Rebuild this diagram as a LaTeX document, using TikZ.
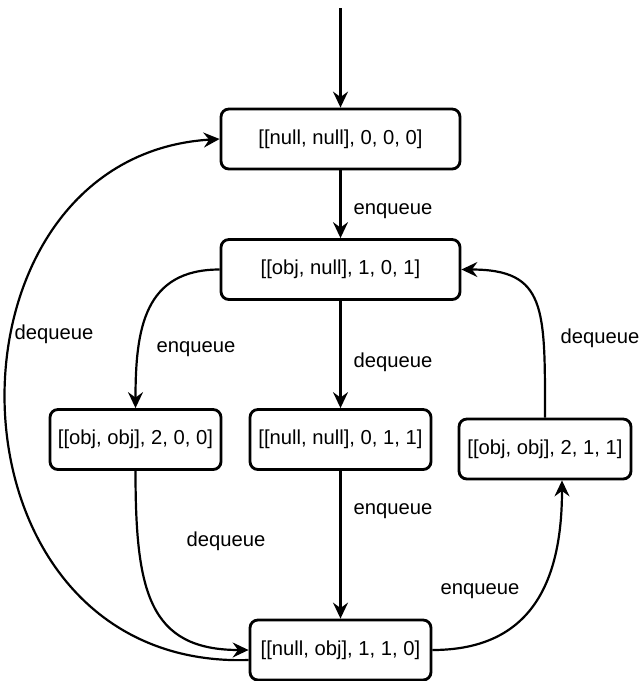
\documentclass[tikz,border=0pt]{standalone}
\usepackage{fontspec}
\setmainfont{Liberation Sans}
\usetikzlibrary{arrows.meta, positioning, calc}
\definecolor{ink}{HTML}{000000}
\definecolor{paper}{HTML}{FFFFFF}

\begin{document}
\begin{tikzpicture}[
  >={Stealth[length=3.2mm, width=3mm, inset=1.1mm]},
  qstate/.style={draw=ink, line width=1.6pt, fill=paper, rounded corners=4.5pt,
    minimum width=#1, minimum height=12mm, inner sep=0pt,
    font=\fontsize{11.5}{13}\selectfont, text=ink, align=center},
  qstate/.default=36.2mm,
  lbl/.style={font=\fontsize{11.5}{13}\selectfont, text=ink, inner sep=1pt},
  arr/.style={->, line width=1.25pt, ink},
]

% Background
\useasboundingbox[fill=paper] (0,0) rectangle (12.82,-13.62);

% =============================================
% States
% =============================================
\coordinate (start) at (6.81,-0.16);

\node[qstate=47.8mm] (n0) at (6.81,-2.78)
  {[[null, null], 0, 0, 0]};

\node[qstate=47.8mm] (n1) at (6.81,-5.39)
  {[[obj, null], 1, 0, 1]};

\node[qstate=34.2mm] (n2) at (2.71,-8.79)
  {[[obj, obj], 2, 0, 0]};

\node[qstate] (n3) at (6.81,-8.79)
  {[[null, null], 0, 1, 1]};

\node[qstate=34.4mm] (n4) at (10.9,-8.98)
  {[[obj, obj], 2, 1, 1]};

\node[qstate] (n5) at (6.81,-13.0)
  {[[null, obj], 1, 1, 0]};

% =============================================
% Straight transitions
% =============================================
\draw[arr] (start) -- (n0);
\draw[arr] (n0) -- (n1);
\draw[arr] (n1) -- (n3);
\draw[arr] (n3) -- (n5);

% =============================================
% Curved transitions
% =============================================
\draw[arr] (n1.west) .. controls +(-1.5,0) and +(0,1.6) .. (n2.north);
\draw[arr] (n2.south) .. controls +(0,-2.4) and +(-2.0,0) .. (n5.west);
\draw[arr] (n5.east) .. controls +(2.0,0) and +(0,-2.0) .. ([xshift=3.4mm]n4.south);
\draw[arr] (n4.north) .. controls +(0,2.2) and +(1.7,0) .. (n1.east);
\draw[arr] ([yshift=-2mm]n5.west) .. controls (-1.35,-13.4) and (-1.45,-3.14) .. (n0.west);

% Labels
\node[lbl] (l01) at (7.86,-4.22) {enqueue};
\node[lbl] (l13) at (7.86,-7.24) {dequeue};
\node[lbl] (l12) at (3.92,-6.98) {enqueue};
\node[lbl] (l50) at (1.08,-6.68) {dequeue};
\node[lbl] (l25) at (4.52,-10.82) {dequeue};
\node[lbl] (l35) at (7.86,-10.22) {enqueue};
\node[lbl] (l54) at (9.6,-11.82) {enqueue};
\node[lbl] (l41) at (12.0,-6.76) {dequeue};

\end{tikzpicture}
\end{document}
